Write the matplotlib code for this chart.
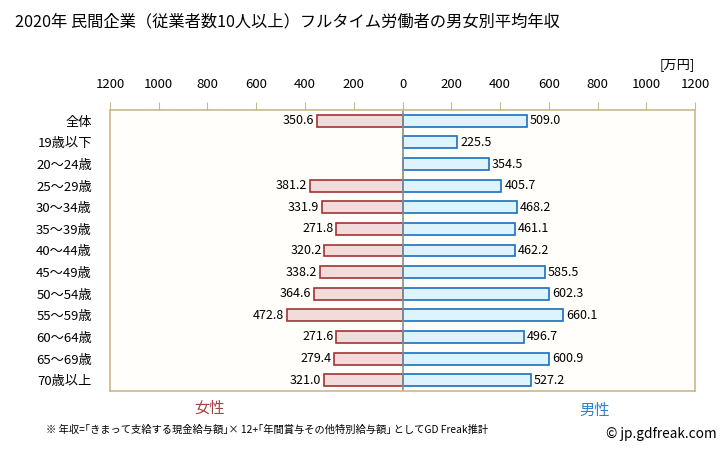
import numpy as np
import matplotlib
matplotlib.use("Agg")
import matplotlib.pyplot as plt

plt.rcParams['font.family'] = ['Noto Sans CJK JP', 'DejaVu Sans']

# data
categories = ["全体", "19歳以下", "20～24歳", "25～29歳", "30～34歳", "35～39歳",
              "40～44歳", "45～49歳", "50～54歳", "55～59歳", "60～64歳",
              "65～69歳", "70歳以上"]
female = [350.6, np.nan, np.nan, 381.2, 331.9, 271.8, 320.2, 338.2, 364.6,
          472.8, 271.6, 279.4, 321.0]
male = [509.0, 225.5, 354.5, 405.7, 468.2, 461.1, 462.2, 585.5, 602.3,
        660.1, 496.7, 600.9, 527.2]
ticks = [-1200, -1000, -800, -600, -400, -200, 0, 200, 400, 600, 800, 1000, 1200]

W, H = 728, 451
fig = plt.figure(figsize=(W / 100, H / 100), dpi=100)
ax = fig.add_axes([110 / W, 1 - 391 / H, 585 / W, 281 / H])
ax.set_facecolor('#fffefa')

y = np.arange(len(categories))
fem = np.array(female)
ax.barh(y, -fem, height=0.55, color='#f2dcdb', edgecolor='#a03535', linewidth=1.2)
ax.barh(y, male, height=0.55, color='#ddf3fd', edgecolor='#1a70c0', linewidth=1.2)
ax.axvline(0, color='#8c8c8c', lw=1.2)

for i in range(len(categories)):
    if not np.isnan(fem[i]):
        ax.text(-fem[i] - 12, i, f"{fem[i]:.1f}", ha='right', va='center', fontsize=9)
    ax.text(male[i] + 12, i, f"{male[i]:.1f}", ha='left', va='center', fontsize=9)

ax.set_xlim(-1200, 1200)
ax.set_ylim(len(categories) - 0.5, -0.5)
ax.set_yticks(y)
ax.set_yticklabels(categories, fontsize=9.5)
ax.tick_params(axis='y', length=0, pad=13)
ax.xaxis.tick_top()
ax.set_xticks(ticks)
ax.set_xticklabels([str(abs(t)) for t in ticks], fontsize=9.5)
ax.tick_params(axis='x', direction='out', length=6, color='#c8b98c', pad=8)
for s in ax.spines.values():
    s.set_color('#c8b98c')
    s.set_linewidth(1.2)

fig.text(15 / W, 1 - 22 / H, "2020年 民間企業（従業者数10人以上）フルタイム労働者の男女別平均年収",
         fontsize=11.7, va='center', ha='left')
fig.text(695 / W, 1 - 65 / H, "[万円]", fontsize=9.5, ha='right', va='center')
fig.text(210 / W, 1 - 408 / H, "女性", fontsize=11, color='#a04545', ha='center', va='center')
fig.text(595 / W, 1 - 410 / H, "男性", fontsize=11, color='#2f82d0', ha='center', va='center')
fig.text(46 / W, 1 - 430 / H,
         "※ 年収=｢きまって支給する現金給与額｣× 12+｢年間賞与その他特別給与額｣ としてGD Freak推計",
         fontsize=7.4, ha='left', va='center')
fig.text(717 / W, 1 - 434 / H, "© jp.gdfreak.com", fontsize=9.8, ha='right', va='center')

fig.savefig("out.png", dpi=100)
